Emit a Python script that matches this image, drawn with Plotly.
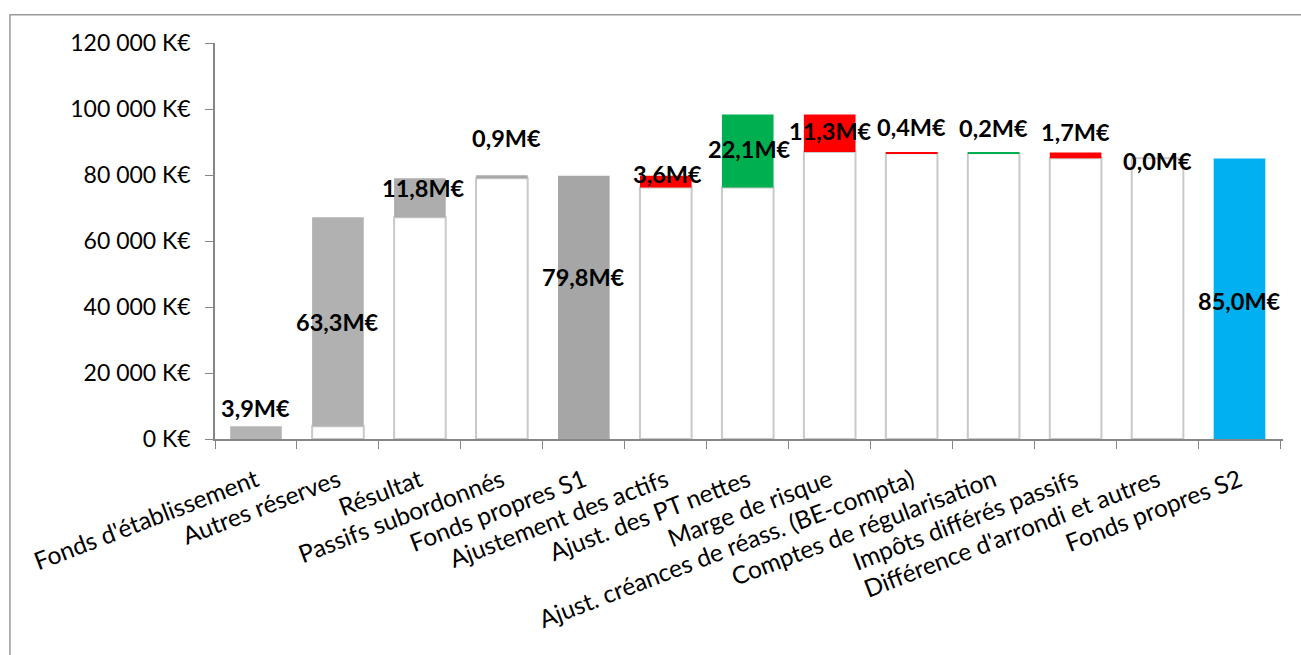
import plotly.graph_objects as go

# Passage des fonds propres S1 aux fonds propres S2 (montants en K€)
categories = [
    "Fonds d'établissement",
    "Autres réserves",
    "Résultat",
    "Passifs subordonnés",
    "Fonds propres S1",
    "Ajustement des actifs",
    "Ajust. des PT nettes",
    "Marge de risque",
    "Ajust. créances de réass. (BE-compta)",
    "Comptes de régularisation",
    "Impôts différés passifs",
    "Différence d'arrondi et autres",
    "Fonds propres S2",
]
values_keur = [3900, 63300, 11800, 900, 79800, -3600, 22100, -11300, -400, 200, -1700, 0, 85000]
kinds = ["part", "part", "part", "part", "total",
         "delta", "delta", "delta", "delta", "delta", "delta", "delta", "total"]

y_tick_values = [0, 20000, 40000, 60000, 80000, 100000, 120000]
y_tick_labels = ["0 K€", "20 000 K€", "40 000 K€", "60 000 K€", "80 000 K€", "100 000 K€", "120 000 K€"]

# Style: colours and label placement (anchor on the bar + pixel shift)
GRAY_PARTS = ["#b4b4b4", "#b1b1b1", "#adadad", "#a8a8a8"]
GRAY_TOTAL = "#a6a6a6"
RED = "#ff0000"
GREEN = "#00b050"
BLUE = "#00b0f0"
label_anchor = ["top", "mid", "top", "top", "mid", "top", "mid", "mid", "top", "top", "top", "top", "mid"]
label_dy = [18, 0, -10, 37, 30, 2, 2, 2, 25, 25, 21, -3, -2]
label_dx = [0, 0, 4, 5, 0, 2, 2, 1, 0, 0, 0, 0, 0]

FONT = "Lato, 'Open Sans', sans-serif"

# Running waterfall geometry
bases, lengths, colors, supports = [], [], [], []
level = 0
for i, (v, k) in enumerate(zip(values_keur, kinds)):
    if k == "total":
        bases.append(0)
        lengths.append(v)
        supports.append(0)
        level = v
        colors.append(BLUE if i == len(values_keur) - 1 else GRAY_TOTAL)
    else:
        lo = min(level, level + v)
        bases.append(lo)
        lengths.append(abs(v))
        supports.append(lo)
        level += v
        if k == "part":
            colors.append(GRAY_PARTS[i])
        else:
            colors.append(RED if v < 0 else GREEN)

fig = go.Figure()

# White supporting columns under floating bars
fig.add_trace(go.Bar(
    x=categories, y=supports, base=[0] * len(supports),
    marker=dict(color="white", line=dict(color="#c9c9c9", width=2)),
    hoverinfo="skip", showlegend=False,
))

# Value bars
fig.add_trace(go.Bar(
    x=categories, y=lengths, base=bases,
    marker=dict(color=colors, line=dict(width=0)),
    showlegend=False,
))

# Value labels
for i, v in enumerate(values_keur):
    txt = f"{abs(v) / 1000:.1f}M€".replace(".", ",")
    top = bases[i] + lengths[i]
    y = top if label_anchor[i] == "top" else bases[i] + lengths[i] / 2
    fig.add_annotation(
        x=categories[i], y=y, text=f"<b>{txt}</b>", showarrow=False,
        xanchor="center", yanchor="middle", xshift=label_dx[i], yshift=label_dy[i],
        font=dict(family=FONT, size=23.5, color="black"),
    )

# Outer frame of the chart area
fig.add_shape(type="rect", xref="paper", yref="paper",
              x0=-0.192, x1=1.05, y0=-0.7, y1=1.0715,
              line=dict(color="#9a9a9a", width=1.5), fillcolor="rgba(0,0,0,0)", layer="below")

fig.update_layout(
    width=1301, height=655,
    margin=dict(l=215, r=18, t=43, b=216),
    paper_bgcolor="white", plot_bgcolor="white",
    barmode="overlay", bargap=0.37,
    font=dict(family=FONT, size=23, color="black"),
    xaxis=dict(
        type="category", tickangle=-21, showgrid=False, automargin=False,
        showline=True, linecolor="#868686", linewidth=1.5,
        ticks="outside", tickson="boundaries", ticklen=8, tickcolor="#868686",
        ticklabelstandoff=16,
        tickfont=dict(family=FONT, size=24.5, color="black"),
    ),
    yaxis=dict(
        range=[0, 120000], tickvals=y_tick_values, ticktext=y_tick_labels,
        showgrid=False, zeroline=False, automargin=False,
        showline=True, linecolor="#868686", linewidth=1.5,
        ticks="outside", ticklen=8, tickcolor="#868686", ticklabelstandoff=10,
        tickfont=dict(family=FONT, size=23, color="black"),
    ),
)

fig.write_html("out.html")
